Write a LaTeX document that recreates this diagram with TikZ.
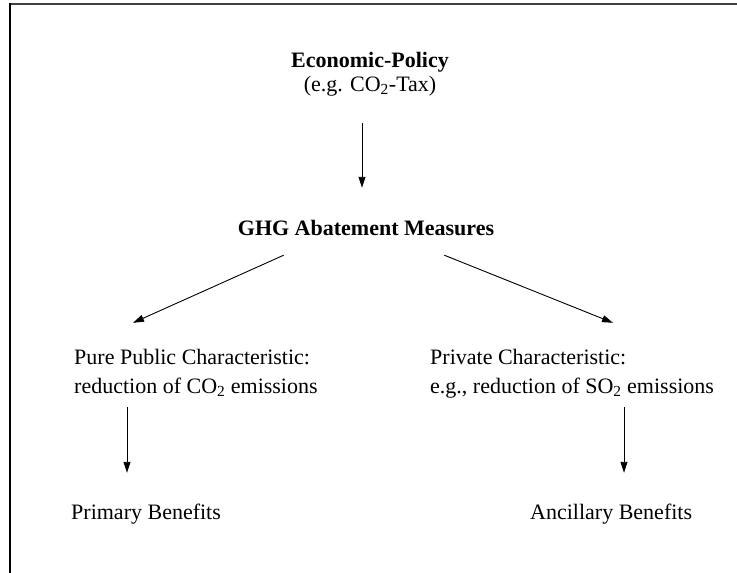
\documentclass[tikz,border=0pt]{standalone}
\usepackage{fontspec}
\setmainfont{Liberation Serif}
\usetikzlibrary{arrows.meta}
\begin{document}
\begin{tikzpicture}[x=1pt,y=-1pt,
  txt/.style={inner sep=0pt, text height=15pt, text depth=5pt, font=\fontsize{22}{26}\selectfont},
  btxt/.style={txt, font=\fontsize{22}{26}\selectfont\bfseries},
  arr/.style={line width=0.9pt, -{Triangle[length=11pt,width=7pt]}},
  frame/.style={line width=2pt}]
\useasboundingbox (0,0) rectangle (737,573);
% frame (top and left edges)
\draw[frame, black!75] (9,4) -- (737,4);
\draw[frame, black] (10,3) -- (10,573);
% nodes
\node[btxt, anchor=base] (econ) at (370,67) {Economic-Policy};
\node[txt, anchor=base] (eg) at (370,91) {(e.g. CO\textsubscript{2}-Tax)};
\node[btxt, anchor=base] (ghg) at (366,235) {GHG Abatement Measures};
\node[txt, anchor=base west] (pub1) at (74,364) {Pure Public Characteristic:};
\node[txt, anchor=base west] (pub2) at (74,393) {reduction of CO\textsubscript{2} emissions};
\node[txt, anchor=base west] (priv1) at (430,364) {Private Characteristic:};
\node[txt, anchor=base west] (priv2) at (430,393) {e.g., reduction of SO\textsubscript{2} emissions};
\node[txt, anchor=base west] (prim) at (71,519) {Primary Benefits};
\node[txt, anchor=base west] (anc) at (530,519) {Ancillary Benefits};
% connectors
\draw[arr] ([xshift=-8pt,yshift=-27pt]eg.south) -- ([xshift=-4pt,yshift=32pt]ghg.north);
\draw[arr] ([xshift=46pt,yshift=-15pt]ghg.south west) -- ([xshift=59pt,yshift=26pt]pub1.north west);
\draw[arr] ([xshift=-50pt,yshift=-15pt]ghg.south east) -- ([xshift=183pt,yshift=26pt]priv1.north west);
\draw[arr] ([xshift=53pt,yshift=-9pt]pub2.south west) -- ([xshift=56pt,yshift=31pt]prim.north west);
\draw[arr] ([xshift=194pt,yshift=-9pt]priv2.south west) -- ([xshift=94pt,yshift=31pt]anc.north west);
\end{tikzpicture}
\end{document}
